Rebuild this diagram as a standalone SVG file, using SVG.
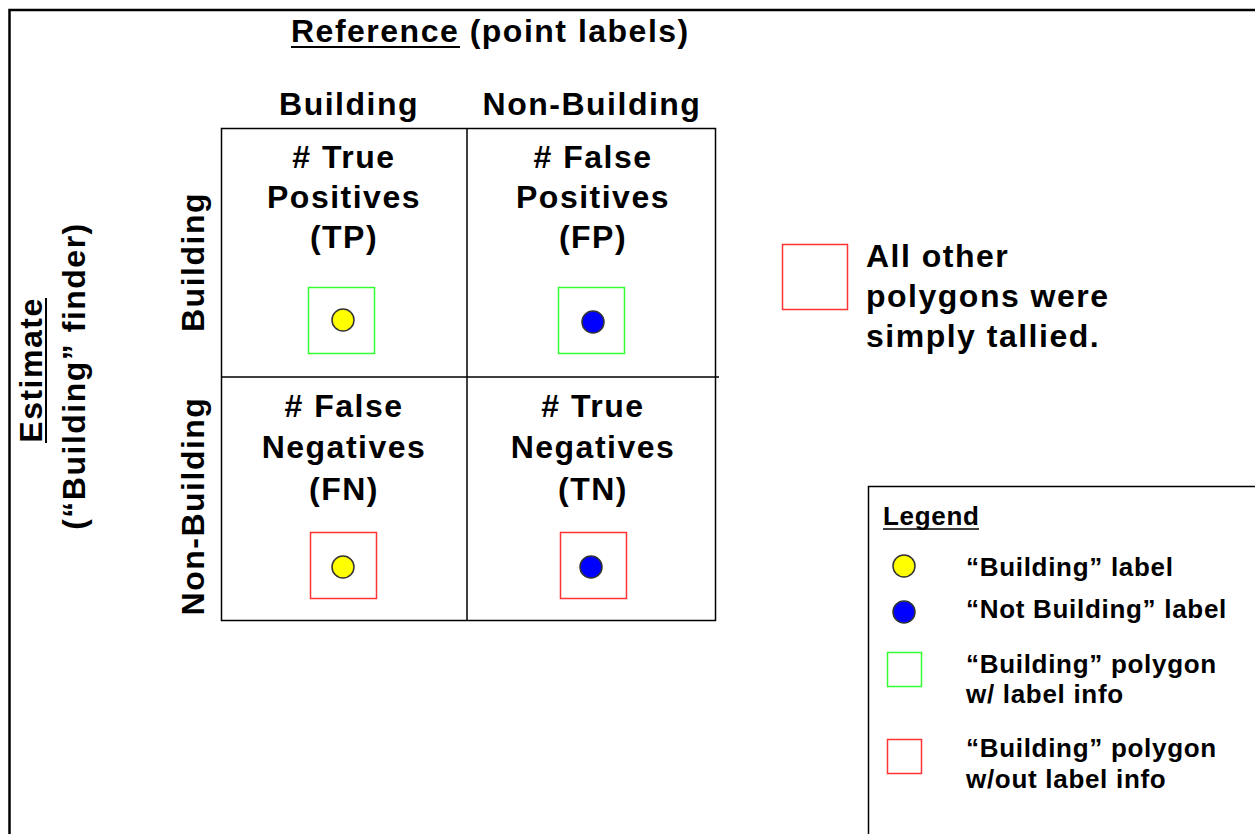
<svg xmlns="http://www.w3.org/2000/svg" width="1255" height="834" viewBox="0 0 1255 834">
<style>
text{font-family:"Liberation Sans",Arial,sans-serif;font-weight:bold;fill:#000}
.big{font-size:32px;letter-spacing:1.5px}
.mid{text-anchor:middle}
.leg{font-size:26px;letter-spacing:0.7px}
.grid{stroke:#000;stroke-width:1.5;fill:none}
.gbox{fill:none;stroke:#33ff33;stroke-width:1.5}
.rbox{fill:none;stroke:#ff3333;stroke-width:1.5}
.ydot{fill:#ffff00;stroke:#333;stroke-width:1.5}
.bdot{fill:#0000ff;stroke:#333;stroke-width:1.5}
.ul{stroke:#000;stroke-width:2}
</style>
<rect width="1255" height="834" fill="#fff"/>
<g id="frame">
<path d="M9.5,834 V10 H1255" fill="none" stroke="#000" stroke-width="2.5"/>
</g>
<g id="header">
<text class="big" x="291" y="42">Reference (point labels)</text>
<line class="ul" x1="291" y1="47" x2="460" y2="47"/>
<text class="big mid" x="349" y="115">Building</text>
<text class="big mid" x="592" y="115">Non-Building</text>
</g>
<g id="side">
<text class="big mid" transform="translate(42,370) rotate(-90)">Estimate</text>
<line class="ul" x1="46" y1="298" x2="46" y2="443"/>
<text class="big mid" transform="translate(85,376) rotate(-90)">(“Building” finder)</text>
<text class="big mid" transform="translate(204,262) rotate(-90)">Building</text>
<text class="big mid" transform="translate(204,506) rotate(-90)">Non-Building</text>
</g>
<g id="grid">
<rect class="grid" x="221.5" y="128.5" width="494" height="492"/>
<line class="grid" x1="467" y1="128" x2="467" y2="621"/>
<line class="grid" x1="221" y1="377" x2="719" y2="377"/>
</g>
<g id="cells">
<g id="cell-tp">
<text class="big mid" y="168"><tspan x="344">#&#160;True</tspan><tspan x="344" dy="40">Positives</tspan><tspan x="344" dy="40">(TP)</tspan></text>
<rect class="gbox" x="308.5" y="287.5" width="66" height="66"/>
<circle class="ydot" cx="343" cy="320" r="11"/>
</g>
<g id="cell-fp">
<text class="big mid" y="168"><tspan x="593">#&#160;False</tspan><tspan x="593" dy="40">Positives</tspan><tspan x="593" dy="40">(FP)</tspan></text>
<rect class="gbox" x="558.5" y="287.5" width="66" height="66"/>
<circle class="bdot" cx="593" cy="322" r="11"/>
</g>
<g id="cell-fn">
<text class="big mid" y="417"><tspan x="344">#&#160;False</tspan><tspan x="344" dy="41">Negatives</tspan><tspan x="344" dy="42">(FN)</tspan></text>
<rect class="rbox" x="310.5" y="532.5" width="66" height="66"/>
<circle class="ydot" cx="343" cy="567" r="11"/>
</g>
<g id="cell-tn">
<text class="big mid" y="417"><tspan x="593">#&#160;True</tspan><tspan x="593" dy="41">Negatives</tspan><tspan x="593" dy="42">(TN)</tspan></text>
<rect class="rbox" x="560.5" y="532.5" width="66" height="66"/>
<circle class="bdot" cx="591" cy="567" r="11"/>
</g>
</g>
<g id="note">
<rect class="rbox" x="782.5" y="244.5" width="65" height="65"/>
<text class="big" x="866" y="267">All other</text>
<text class="big" x="866" y="307">polygons were</text>
<text class="big" x="866" y="347">simply tallied.</text>
</g>
<g id="legend">
<path d="M868.5,834 V486.5 H1255" fill="none" stroke="#000" stroke-width="1.5"/>
<text class="leg" x="883" y="525">Legend</text>
<line x1="883" y1="529" x2="979" y2="529" stroke="#000" stroke-width="1.5"/>
<circle class="ydot" cx="904" cy="566" r="11"/>
<text class="leg" x="966" y="576">“Building” label</text>
<circle class="bdot" cx="904" cy="612" r="11"/>
<text class="leg" x="966" y="618">“Not Building” label</text>
<rect class="gbox" x="887.5" y="652.5" width="34" height="34"/>
<text class="leg" x="966" y="673">“Building” polygon</text>
<text class="leg" x="966" y="703">w/ label info</text>
<rect class="rbox" x="887.5" y="739.5" width="34" height="34"/>
<text class="leg" x="966" y="757">“Building” polygon</text>
<text class="leg" x="966" y="788">w/out label info</text>
</g>
</svg>
